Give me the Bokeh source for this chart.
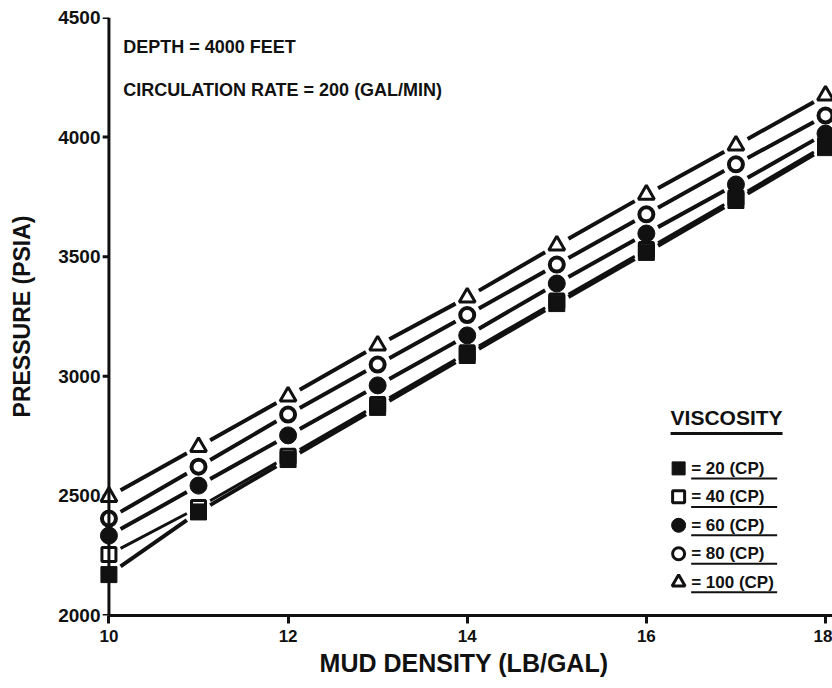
import numpy as np
from bokeh.plotting import figure
from bokeh.models import Range1d, FixedTicker, Span
from bokeh.core.properties import value
from bokeh.embed import file_html
from bokeh.resources import INLINE

# Bottom-hole pressure vs. mud density, one series per mud viscosity
density = [10, 11, 12, 13, 14, 15, 16, 17, 18]           # lb/gal
p_20cp = [2171, 2433, 2652, 2870, 3087, 3304, 3518, 3735, 3956]
p_40cp = [2255, 2452, 2666, 2882, 3098, 3315, 3530, 3746, 3966]
p_60cp = [2334, 2543, 2753, 2962, 3171, 3388, 3597, 3802, 4015]
p_80cp = [2405, 2622, 2840, 3049, 3256, 3467, 3677, 3886, 4090]
p_100cp = [2496, 2705, 2916, 3129, 3330, 3547, 3760, 3965, 4174]

viscosity_labels = ["= 20 (CP)", "= 40 (CP)", "= 60 (CP)", "= 80 (CP)", "= 100 (CP)"]
x_ticks = [10, 12, 14, 16, 18]
y_ticks = [2000, 2500, 3000, 3500, 4000, 4500]

INK = "#111111"
SANS = "Liberation Sans"
X0 = 10          # where the pressure axis stands

# a little room left of 10 lb/gal so the first markers are not cut by the frame
p = figure(width=832, height=688, output_backend="svg", toolbar_location=None,
           x_range=Range1d(9.85, 18.078), y_range=Range1d(2000, 4500),
           min_border_left=95, min_border_right=0, min_border_top=17,
           min_border_bottom=73)
p.outline_line_color = None
p.grid.grid_line_color = None
p.background_fill_color = "white"
p.border_fill_color = "white"

for ax in (p.xaxis[0], p.yaxis[0]):
    ax.axis_line_color = INK
    ax.axis_line_width = 3
    ax.major_tick_line_color = INK
    ax.major_tick_line_width = 3
    ax.major_tick_in = 0
    ax.minor_tick_line_color = None
    ax.major_label_text_font = SANS
    ax.major_label_text_font_style = "bold"
    ax.major_label_text_color = INK
    ax.axis_label_text_font = SANS
    ax.axis_label_text_font_style = "bold"
    ax.axis_label_text_color = INK

p.xaxis.bounds = (X0, 18.078)
p.xaxis.ticker = FixedTicker(ticks=x_ticks)
p.xaxis.major_tick_out = 8
p.xaxis.major_label_standoff = 6
p.xaxis.major_label_text_font_size = "17px"
p.xaxis.axis_label = "MUD DENSITY (LB/GAL)"
p.xaxis.axis_label_text_font_size = "25px"
p.xaxis.axis_label_standoff = 4

# pressure axis: labels from the axis model, line and ticks drawn at 10 lb/gal
p.yaxis.ticker = FixedTicker(ticks=y_ticks)
p.yaxis.axis_line_color = None
p.yaxis.major_tick_line_color = None
p.yaxis.major_tick_out = 0
p.yaxis.major_label_standoff = -5
p.yaxis.major_label_text_font_size = "19px"
p.yaxis.axis_label = "PRESSURE (PSIA)"
p.yaxis.axis_label_text_font_size = "23px"
p.yaxis.axis_label_standoff = 20

p.add_layout(Span(location=X0, dimension="height", line_color=INK, line_width=3))
tick_len = 0.07
p.segment(x0=[X0 - tick_len] * len(y_ticks), y0=y_ticks,
          x1=[X0] * len(y_ticks), y1=y_ticks, line_color=INK, line_width=3)


def gapped_segments(xs, ys, gap):
    """Straight pieces between consecutive points, stopping short of each marker."""
    x0, y0, x1, y1 = [], [], [], []
    for i in range(len(xs) - 1):
        xa, xb, ya, yb = xs[i], xs[i + 1], ys[i], ys[i + 1]
        t = gap / (xb - xa)
        x0.append(xa + gap)
        y0.append(ya + (yb - ya) * t)
        x1.append(xb - gap)
        y1.append(yb - (yb - ya) * t)
    return dict(x0=x0, y0=y0, x1=x1, y1=y1)


series = [
    (p_40cp, dict(marker="square", size=14, fill_color="white", line_width=3), 3),
    (p_20cp, dict(marker="square", size=16, fill_color=INK, line_width=1), 4),
    (p_60cp, dict(marker="circle", size=17, fill_color=INK, line_width=1), 4),
    (p_80cp, dict(marker="circle", size=14, fill_color="white", line_width=4), 4),
    (p_100cp, dict(marker="triangle", size=16, fill_color="white", line_width=3), 4),
]

for ys, _, lw in series:
    p.segment(line_color=INK, line_width=lw, line_cap="butt",
              **gapped_segments(density, ys, 0.13))

for ys, style, _ in series:
    p.scatter(density, ys, line_color=INK, **style)

# run conditions
p.text(x=[10.16], y=[4375], text=["DEPTH = 4000 FEET"],
       text_font=value(SANS), text_font_style="bold", text_font_size="18px",
       text_color=INK, text_baseline="middle")
p.text(x=[10.16], y=[4195], text=["CIRCULATION  RATE = 200 (GAL/MIN)"],
       text_font=value(SANS), text_font_style="bold", text_font_size="18px",
       text_color=INK, text_baseline="middle")

# legend block
leg_marker_x = 16.36
leg_text_x = 16.50
leg_text_end = 17.46
leg_row_y = [2615 - 119 * i for i in range(5)]
legend_styles = [
    dict(marker="square", size=13, fill_color=INK, line_width=1),
    dict(marker="square", size=12, fill_color="white", line_width=3),
    dict(marker="circle", size=14, fill_color=INK, line_width=1),
    dict(marker="circle", size=12, fill_color="white", line_width=3),
    dict(marker="triangle", size=13, fill_color="white", line_width=3),
]

p.text(x=[16.27], y=[2826], text=["VISCOSITY"], text_font=value(SANS),
       text_font_style="bold", text_font_size="21px", text_color=INK,
       text_baseline="middle")
p.segment(x0=[16.27], y0=[2761], x1=[17.52], y1=[2761], line_color=INK,
          line_width=3)

for yrow, label, style in zip(leg_row_y, viscosity_labels, legend_styles):
    p.scatter([leg_marker_x], [yrow], line_color=INK, **style)
    p.text(x=[leg_text_x], y=[yrow], text=[label], text_font=value(SANS),
           text_font_style="bold", text_font_size="17px", text_color=INK,
           text_baseline="middle")
    p.segment(x0=[leg_text_x], y0=[yrow - 42], x1=[leg_text_end], y1=[yrow - 42],
              line_color=INK, line_width=2)

open("out.html", "w").write(file_html(p, INLINE))
